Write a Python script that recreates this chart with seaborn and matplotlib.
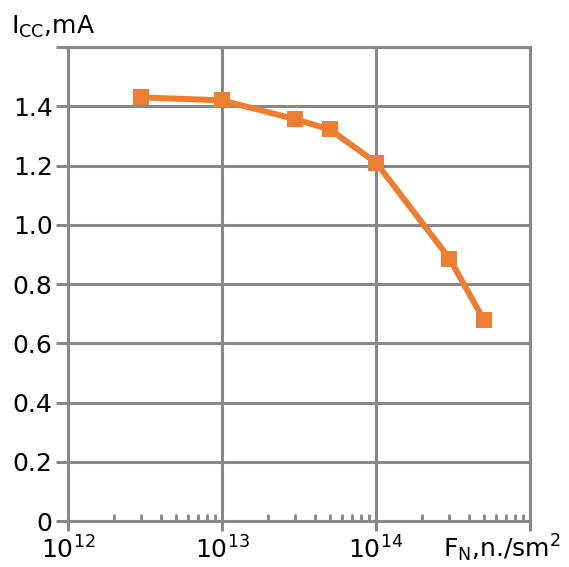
import matplotlib
matplotlib.use('Agg')
import matplotlib.pyplot as plt
import matplotlib.ticker as mticker
import seaborn as sns
import pandas as pd

fluence = [3e12, 1e13, 3e13, 5e13, 1e14, 3e14, 5e14]
icc = [1.43, 1.42, 1.356, 1.322, 1.21, 0.886, 0.68]
x_ticks = [1e12, 1e13, 1e14]
x_labels = ['$10^{12}$', '$10^{13}$', '$10^{14}$']
y_ticks = [0, 0.2, 0.4, 0.6, 0.8, 1.0, 1.2, 1.4]
y_labels = ['0', '0.2', '0.4', '0.6', '0.8', '1.0', '1.2', '1.4']

df = pd.DataFrame({'F': fluence, 'I': icc})

sns.set_style('white')
plt.rcParams['font.family'] = ['DejaVu Sans']
plt.rcParams['mathtext.fontset'] = 'dejavusans'
plt.rcParams['text.color'] = 'black'
plt.rcParams['xtick.labelcolor'] = 'black'
plt.rcParams['ytick.labelcolor'] = 'black'

grid_c = '#888888'
fs = 18
fig = plt.figure(figsize=(5.69, 5.67), dpi=100)
ax = fig.add_axes([0.1195, 0.0811, 0.812, 0.836])

sns.lineplot(data=df, x='F', y='I', ax=ax, color='#ED7D31', lw=4.3,
             marker='s', markersize=11, markeredgewidth=0, zorder=5)

ax.set_xscale('log')
ax.set_xlim(1e12, 1e15)
ax.set_ylim(0, 1.6)
ax.set_xticks(x_ticks + [1e15])
ax.set_xticklabels(x_labels + [''], fontsize=fs)
ax.set_yticks(y_ticks + [1.6])
ax.set_yticklabels(y_labels + [''], fontsize=fs)
ax.xaxis.set_minor_locator(mticker.LogLocator(base=10, subs=range(2, 10)))
ax.xaxis.set_minor_formatter(mticker.NullFormatter())

ax.grid(True, which='major', color=grid_c, lw=2.2)
ax.set_axisbelow(True)
for s in ax.spines.values():
    s.set_color(grid_c)
    s.set_linewidth(2.2)

ax.tick_params(axis='x', which='major', bottom=True, direction='out', length=7,
               width=2.2, color=grid_c, pad=4)
ax.tick_params(axis='x', which='minor', bottom=True, direction='in', length=5,
               width=2, color=grid_c)
ax.tick_params(axis='y', which='major', left=True, direction='out', length=9,
               width=2.2, color=grid_c, pad=2)

ax.set_xlabel('')
ax.set_ylabel('')
fig.text(0.02, 0.952, 'I$_{\\mathrm{CC}}$,mA', fontsize=fs, va='center', ha='left')
fig.text(0.778, 0.033, 'F$_{\\mathrm{N}}$,n./sm$^2$', fontsize=fs, va='center', ha='left')

fig.savefig('out.png', dpi=100)
